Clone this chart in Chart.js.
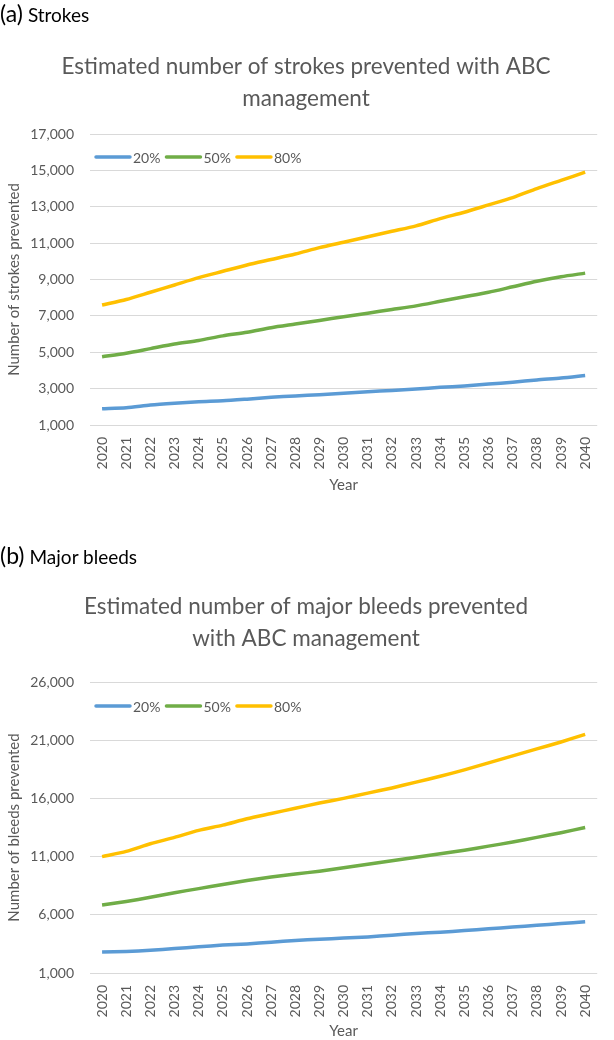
<!DOCTYPE html>
<html>
<head>
<meta charset="utf-8">
<script src="https://cdn.jsdelivr.net/npm/chart.js@4/dist/chart.umd.min.js"></script>
<style>
  html, body { margin: 0; padding: 0; background: #ffffff; }
  body { width: 614px; height: 1040px; position: relative; overflow: hidden; font-family: Lato, "Noto Sans", sans-serif; }
  .panel { position: absolute; left: 0; width: 614px; height: 520px; }
  .tag { position: absolute; left: 0; color: #000; white-space: nowrap; z-index: 2; line-height: 1; }
  .tag .p { font-size: 23px; }
  .tag .t { font-size: 19px; margin-left: 5px; }
</style>
</head>
<body>
<div class="panel" style="top:0"><canvas id="c1" width="614" height="520"></canvas></div>
<div class="panel" style="top:520px"><canvas id="c2" width="614" height="520"></canvas></div>
<div class="tag" style="top:2px"><span class="p">(a)</span><span class="t">Strokes</span></div>
<div class="tag" style="top:544px"><span class="p">(b)</span><span class="t">Major bleeds</span></div>
<script>
const years = ['2020','2021','2022','2023','2024','2025','2026','2027','2028','2029','2030',
               '2031','2032','2033','2034','2035','2036','2037','2038','2039','2040'];
const seriesNames = ['20%', '50%', '80%'];

// (a) Strokes prevented
const strokes20 = [1900, 1950, 2100, 2200, 2280, 2330, 2420, 2520, 2600, 2660, 2750, 2830, 2900, 2980, 3070, 3150, 3250, 3350, 3480, 3580, 3720];
const strokes50 = [4750, 4950, 5200, 5450, 5650, 5900, 6100, 6350, 6550, 6750, 6950, 7150, 7350, 7550, 7800, 8050, 8300, 8600, 8900, 9150, 9350];
const strokes80 = [7600, 7900, 8300, 8700, 9100, 9450, 9800, 10100, 10400, 10750, 11050, 11350, 11650, 11950, 12350, 12700, 13100, 13500, 14000, 14450, 14900];

// (b) Major bleeds prevented
const bleeds20 = [2800, 2850, 2950, 3100, 3250, 3400, 3500, 3650, 3800, 3900, 4000, 4100, 4250, 4400, 4500, 4650, 4800, 4950, 5100, 5250, 5400];
const bleeds50 = [6850, 7150, 7500, 7900, 8250, 8600, 8950, 9250, 9500, 9750, 10050, 10350, 10650, 10950, 11250, 11550, 11900, 12250, 12650, 13050, 13500];
const bleeds80 = [11000, 11450, 12100, 12650, 13250, 13700, 14250, 14700, 15150, 15600, 16000, 16450, 16900, 17400, 17900, 18450, 19050, 19650, 20250, 20850, 21500];

const strokesTicks = { min: 1000, max: 17000, step: 2000 };
const bleedsTicks = { min: 1000, max: 26000, step: 5000 };

const colors = ['#5B9BD5', '#70AD47', '#FFC000'];
const grey = '#595959';
const FONT = 'Lato, "Noto Sans", sans-serif';

// Legend drawn inside the plot area, top-left, from the chart's own datasets
const insideLegend = {
  id: 'insideLegend',
  afterDraw(chart, args, opts) {
    const { ctx, chartArea } = chart;
    ctx.save();
    ctx.font = '14px ' + FONT;
    ctx.textBaseline = 'middle';
    ctx.textAlign = 'left';
    let x = chartArea.left + 5;
    const y = chartArea.top + opts.dy;
    chart.data.datasets.forEach((ds) => {
      ctx.strokeStyle = ds.borderColor;
      ctx.lineWidth = 3.5;
      ctx.lineCap = 'round';
      ctx.beginPath();
      ctx.moveTo(x + 1, y);
      ctx.lineTo(x + 35, y);
      ctx.stroke();
      ctx.fillStyle = grey;
      ctx.fillText(ds.label, x + 38, y + 1);
      x += 38 + ctx.measureText(ds.label).width + 5;
    });
    ctx.restore();
  }
};

function makeChart(id, titleLines, yTitle, data, ticks, geo) {
  const datasets = data.map((vals, i) => ({
    label: seriesNames[i],
    data: vals,
    borderColor: colors[i],
    backgroundColor: colors[i],
    borderWidth: 3.5,
    pointRadius: 0,
    tension: 0.25,
    fill: false
  }));
  return new Chart(document.getElementById(id), {
    type: 'line',
    data: { labels: years, datasets },
    plugins: [insideLegend],
    options: {
      responsive: false,
      animation: false,
      layout: { padding: { left: 0, right: 2, top: 0, bottom: 0 } },
      plugins: {
        title: {
          display: true,
          text: titleLines,
          color: grey,
          font: { family: FONT, size: 22.5, weight: 'normal', lineHeight: 1.4 },
          padding: { top: geo.titleTop, bottom: geo.titleBottom }
        },
        legend: { display: false },
        insideLegend: { dy: geo.legendDy },
        tooltip: { enabled: false }
      },
      scales: {
        x: {
          offset: true,
          grid: { display: false, drawTicks: false },
          border: { display: false },
          ticks: {
            color: grey,
            font: { family: FONT, size: 14 },
            minRotation: 90,
            maxRotation: 90,
            autoSkip: false,
            padding: 12
          },
          title: {
            display: true,
            text: 'Year',
            color: grey,
            font: { family: FONT, size: 15 },
            padding: { top: 0, bottom: geo.yearPad }
          },
          afterFit: (s) => { s.height = geo.xHeight; }
        },
        y: {
          min: ticks.min,
          max: ticks.max,
          grid: { color: '#d9d9d9', lineWidth: 1, drawTicks: false },
          border: { display: false },
          ticks: {
            stepSize: ticks.step,
            color: grey,
            font: { family: FONT, size: 14 },
            padding: 16,
            callback: (v) => Number(v).toLocaleString('en-US')
          },
          title: {
            display: true,
            text: yTitle,
            color: grey,
            font: { family: FONT, size: 15 },
            padding: { top: 5, bottom: 0 }
          },
          afterFit: (s) => { s.width = 90; }
        }
      }
    }
  });
}

makeChart('c1', ['Estimated number of strokes prevented with ABC', 'management'],
  'Number of strokes prevented', [strokes20, strokes50, strokes80], strokesTicks,
  { titleTop: 51, titleBottom: 20, xHeight: 95, yearPad: 26, legendDy: 23 });

makeChart('c2', ['Estimated number of major bleeds prevented', 'with ABC management'],
  'Number of bleeds prevented', [bleeds20, bleeds50, bleeds80], bleedsTicks,
  { titleTop: 71, titleBottom: 28, xHeight: 67, yearPad: 0, legendDy: 24 });
</script>
</body>
</html>
